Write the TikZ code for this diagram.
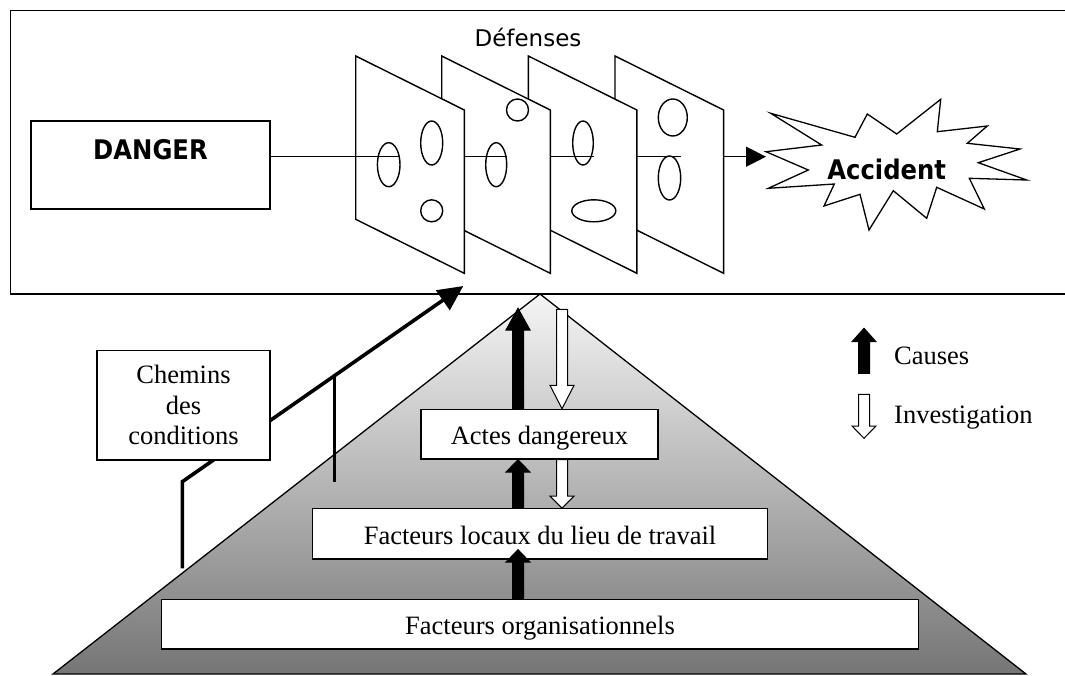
\documentclass[tikz,border=0pt]{standalone}
\usepackage{fontspec}
\setmainfont{Liberation Serif}
\newfontfamily\dvsans{DejaVu Sans}
\newfontfamily\dvcond[FakeStretch=0.9]{DejaVu Sans}
\usetikzlibrary{arrows.meta,calc}

% block arrow: #1 tail, #2 tip, #3 signed head length, #4 fill colour
\newcommand{\blockarrow}[4]{%
  \filldraw[blkarrow, fill=#4] let \p1=(#1), \p2=(#2) in
    (\x1-5.5pt,\y1) -- (\x1-5.5pt,{\y2+(#3)}) -- (\x1-12pt,{\y2+(#3)}) -- (\x1,\y2)
    -- (\x1+12pt,{\y2+(#3)}) -- (\x1+5.5pt,{\y2+(#3)}) -- (\x1+5.5pt,\y1) -- cycle;}

% one defence plate seen in perspective, #1 = left edge
\newcommand{\plate}[1]{%
  \filldraw[plate] (#1,56) -- (#1,219.3) -- ({#1+108.6},273.3) -- ({#1+108.6},110) -- cycle;}

\begin{document}
\begin{tikzpicture}[x=1pt,y=-1pt,
  frame/.style={draw=black, line width=1.5pt},
  plate/.style={draw=black, fill=white, line width=1.4pt},
  hole/.style={draw=black, line width=1.4pt},
  box/.style={draw=black, fill=white, line width=1.3pt, inner sep=0pt},
  tline/.style={line width=1.4pt},
  blkarrow/.style={draw=black, line width=1pt},
  serif/.style={font=\fontsize{26.5}{30.5}\selectfont},
  bigsans/.style={font=\dvcond\bfseries\fontsize{27}{30}\selectfont},
  txt/.style={inner sep=0pt},
  cond/.style={line width=3.6pt},
  lbl/.style={text height=21pt, text depth=0pt},
]
\useasboundingbox (0,0) rectangle (1065,675);

% ---------- pyramid ----------
\coordinate (apex) at (540,294);
\coordinate (bl) at (53,674);
\coordinate (br) at (1026,674);
\shade[top color=black!4, bottom color=black!54] (apex) -- (bl) -- (br) -- cycle;
\draw[line width=1.3pt] (apex) -- (bl) -- (br) -- cycle;

% ---------- upper frame ----------
\draw[frame] (10.5,10.7) rectangle (1068,293.8);

% ---------- danger ----------
\node[box, bigsans, minimum width=239pt, minimum height=88pt,
      text height=20pt, text depth=31.4pt] (danger) at (150.5,165) {DANGER};
\coordinate (hy) at (0,156.7);
\draw[tline] (danger.east |- hy) -- (355.7,156.7);

\node[txt, font=\dvsans\fontsize{23}{26}\selectfont, anchor=base] (defenses) at (528,46.7) {Défenses};

% ---------- plates, back to front ----------
\plate{615}
\draw[hole] (672.8,117.5) ellipse [x radius=14.5pt, y radius=18.5pt];
\draw[hole] (669.5,178) ellipse [x radius=11.2pt, y radius=22pt];
\draw[tline] (615,156.7) -- (681,156.7);

\plate{528.3}
\draw[hole] (583,143) ellipse [x radius=10.3pt, y radius=22pt];
\draw[hole] (593.8,210.8) ellipse [x radius=22pt, y radius=11pt];
\draw[tline] (528.3,156.7) -- (594,156.7);

\plate{441.7}
\draw[hole] (517.5,110) circle [radius=11pt];
\draw[hole] (496.2,164.7) ellipse [x radius=10.5pt, y radius=22pt];
\draw[tline] (441.7,156.7) -- (507,156.7);

\plate{355.7}
\draw[hole] (388.7,164.7) ellipse [x radius=11.3pt, y radius=22pt];
\draw[hole] (431.7,143) ellipse [x radius=11pt, y radius=22pt];
\draw[hole] (431.7,210.8) circle [radius=11pt];
\draw[tline] (355.7,156.7) -- (399.5,156.7);

% ---------- accident ----------
\draw[line width=1.3pt, fill=white]
  (770.7,113.3) -- (855,137.3) -- (867.3,114) -- (896.7,134) -- (940.7,99.3)
  -- (937.3,131.7) -- (987.3,126) -- (967.3,143.3) -- (1020,149) -- (978.3,162.7)
  -- (1026.7,180) -- (969.3,178.3) -- (984.3,209) -- (936.7,187.3) -- (926.7,218.3)
  -- (893.3,190.7) -- (869,230) -- (860,194.3) -- (824,206) -- (834.3,184)
  -- (768.3,188.3) -- (808.3,170) -- (766,151.7) -- (821.7,145) -- cycle;
\node[txt, bigsans, anchor=base] (accident) at (886.7,179) {Accident};
\coordinate (p4r) at (723.6,156.7);
\coordinate (hit) at (766,156.7);
\draw[tline, -{Triangle[length=20pt,width=20pt]}] (p4r) -- (hit);

% ---------- latent condition pathways ----------
\coordinate (cstart) at (182.3,568.3);
\coordinate (cbend) at (182.3,481.7);
\coordinate (ctip) at (463.3,286);
\draw[cond, -{Triangle[length=25pt,width=23.5pt]}] (cstart) -- (cbend) -- (ctip);
\coordinate (vfoot) at (334.3,481.7);
\coordinate (vtop) at (334.3,375.9);
\draw[cond] (vfoot) -- (vtop);
\node[box, serif, align=center, minimum width=173pt, minimum height=109.3pt]
  (chemins) at (183.5,405.4) {Chemins\\des\\conditions};

% ---------- levels ----------
\node[box, serif, lbl, minimum width=237pt, minimum height=49.7pt]
  (actes) at (539.5,434.2) {Actes dangereux};
\node[box, serif, lbl, minimum width=454.6pt, minimum height=50.2pt]
  (locaux) at (540,533.9) {Facteurs locaux du lieu de travail};
\node[box, serif, lbl, minimum width=756.6pt, minimum height=49.7pt]
  (org) at (540,624.2) {Facteurs organisationnels};

% ---------- causes (up) and investigation (down) ----------
\coordinate (cx) at (518,0);
\coordinate (ix) at (562,0);
\blockarrow{cx |- actes.north}{$(cx |- apex)+(0,14.3)$}{-21.7pt}{black}
\blockarrow{cx |- locaux.north}{cx |- actes.south}{-12.4pt}{black}
\blockarrow{cx |- org.north}{$(cx |- locaux.south)+(0,-10)$}{-12.5pt}{black}
\blockarrow{$(ix |- apex)+(0,15.3)$}{ix |- actes.north}{23.3pt}{white}
\blockarrow{ix |- actes.south}{ix |- locaux.north}{12pt}{white}

% ---------- legend ----------
\coordinate (lc1) at (864,373.3);
\coordinate (lc2) at (864,328.3);
\blockarrow{lc1}{lc2}{-13.4pt}{black}
\node[txt, serif, anchor=base west] (causes) at (894,364.3) {Causes};
\coordinate (li1) at (864,394.3);
\coordinate (li2) at (864,438.3);
\blockarrow{li1}{li2}{12.3pt}{white}
\node[txt, serif, anchor=base west] (invest) at (894,423.3) {Investigation};
\end{tikzpicture}
\end{document}
